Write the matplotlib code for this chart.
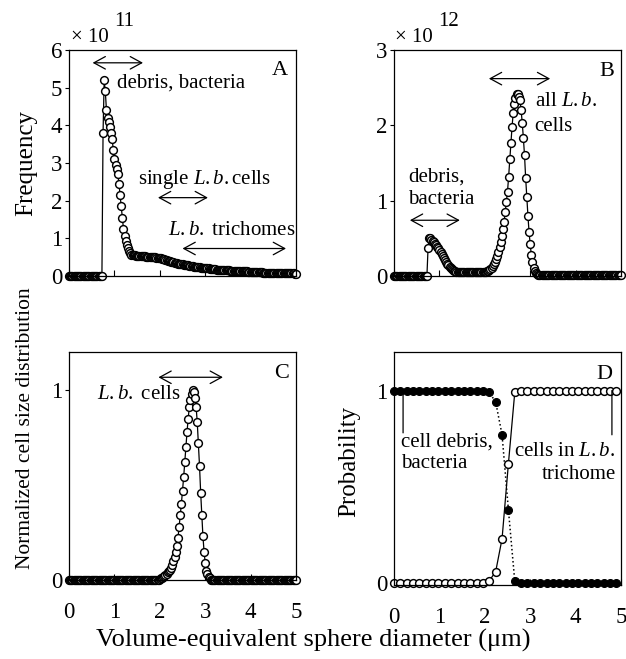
import numpy as np
import matplotlib
matplotlib.use("Agg")
import matplotlib.pyplot as plt

plt.rcParams['font.family'] = ['Liberation Serif', 'DejaVu Serif']
plt.rcParams['mathtext.fontset'] = 'custom'
plt.rcParams['mathtext.rm'] = 'Liberation Serif'
plt.rcParams['mathtext.it'] = 'Liberation Serif:italic'
plt.rcParams['mathtext.bf'] = 'Liberation Serif:bold'

# ---------------- data ----------------
# common diameter grid for panels A-C (um), step 0.025
diam_abc = np.linspace(0, 5, 201)

# Panel A: frequency (x 1e11)
freq_a = (
    [0.0] * 30
    + [3.8, 5.2, 4.9, 4.4, 4.2, 4.1, 3.95, 3.8, 3.65, 3.35,
       3.1, 2.95, 2.85, 2.7, 2.45, 2.15, 1.85, 1.55, 1.25, 1.05,
       0.92, 0.82, 0.74, 0.66, 0.60, 0.56]
    + [0.55, 0.55, 0.55, 0.54, 0.54, 0.54, 0.53, 0.53, 0.53, 0.52,
       0.52, 0.52, 0.51, 0.51, 0.51, 0.51, 0.50, 0.50, 0.50, 0.50,
       0.50, 0.49, 0.49, 0.48, 0.48, 0.47, 0.46, 0.45, 0.44, 0.43,
       0.42, 0.41, 0.40, 0.39, 0.38, 0.37, 0.36, 0.35, 0.35, 0.34,
       0.33, 0.33, 0.32, 0.31, 0.31, 0.30, 0.29, 0.29, 0.28, 0.28,
       0.27, 0.27, 0.26, 0.26, 0.25, 0.25, 0.24, 0.24, 0.23, 0.23,
       0.22, 0.22, 0.22, 0.21, 0.21, 0.20, 0.20, 0.20, 0.19, 0.19,
       0.19, 0.18, 0.18, 0.18, 0.17, 0.17, 0.17, 0.17, 0.16, 0.16,
       0.16, 0.16, 0.15, 0.15, 0.15, 0.15, 0.14, 0.14, 0.14, 0.14,
       0.14, 0.13, 0.13, 0.13, 0.13, 0.13, 0.12, 0.12, 0.12, 0.12,
       0.12, 0.12, 0.11, 0.11, 0.11, 0.11, 0.11, 0.11, 0.10, 0.10,
       0.10, 0.10, 0.10, 0.10, 0.10, 0.09, 0.09, 0.09, 0.09, 0.09,
       0.09, 0.09, 0.09, 0.08, 0.08, 0.08, 0.08, 0.08, 0.08, 0.08,
       0.08, 0.08, 0.07, 0.07, 0.07, 0.07, 0.07, 0.07, 0.07, 0.07,
       0.07, 0.07, 0.07, 0.06, 0.06]
)

# Panel B: frequency (x 1e12)
freq_b = (
    [0.0] * 30
    + [0.37, 0.51, 0.50, 0.48, 0.47, 0.45, 0.43, 0.41, 0.39, 0.37,
       0.34, 0.32, 0.29, 0.26, 0.24, 0.21, 0.19, 0.16, 0.14, 0.12,
       0.11, 0.09, 0.08, 0.07, 0.06]
    + [0.05] * 27
    + [0.06, 0.07, 0.08, 0.09, 0.11, 0.13, 0.16, 0.19, 0.23, 0.27,
       0.32, 0.38, 0.45, 0.53, 0.63, 0.72, 0.85, 0.98, 1.12, 1.32,
       1.55, 1.76, 1.98, 2.16, 2.28, 2.36, 2.41, 2.42, 2.38, 2.33,
       2.20, 2.03, 1.83, 1.60, 1.30, 1.05, 0.80, 0.58, 0.42, 0.28,
       0.18, 0.11, 0.07, 0.04, 0.02]
    + [0.01] * 74
)

# Panel C: normalized cell size distribution
norm_c = (
    [0.0] * 80
    + [0.005, 0.01, 0.01, 0.015, 0.02, 0.025, 0.03, 0.04, 0.045, 0.055,
       0.065, 0.08, 0.10, 0.12, 0.145, 0.18, 0.22, 0.28, 0.34, 0.40,
       0.47, 0.54, 0.62, 0.70, 0.78, 0.85, 0.91, 0.95, 0.98, 1.00,
       0.99, 0.96, 0.91, 0.83, 0.72, 0.60, 0.46, 0.34, 0.23, 0.15,
       0.09, 0.05, 0.03, 0.015, 0.008]
    + [0.0] * 76
)

# Panel D: probability, coarser grid (step 0.14)
diam_d = np.linspace(0, 4.9, 36)
prob_debris = ([1.0] * 15 + [0.99, 0.94, 0.77, 0.38, 0.01] + [0.0] * 16)
prob_trichome = ([0.0] * 15 + [0.012, 0.06, 0.23, 0.62, 0.99] + [1.0] * 16)

xticks = [0, 1, 2, 3, 4, 5]
yticks_a = [0, 1, 2, 3, 4, 5, 6]
yticks_b = [0, 1, 2, 3]
yticks_cd = [0, 1]

# ---------------- figure ----------------
W, H = 626, 659
fig = plt.figure(figsize=(W / 100, H / 100), dpi=100)

def axes_px(l, t, r, b):
    return fig.add_axes([l / W, 1 - b / H, (r - l) / W, (b - t) / H])

axA = axes_px(69, 50, 296, 276)
axB = axes_px(394, 50, 621, 276)
axC = axes_px(69, 352, 296, 580)
axD = axes_px(394, 352, 621, 585)

TICK_FS = 16.5
ANN_FS = 15
mk = dict(marker='o', ms=5.6, mfc='white', mec='black', mew=1.05,
          color='black', lw=0.9, clip_on=False)

for ax in (axA, axB, axC, axD):
    ax.set_xlim(0, 5)
    ax.set_xticks(xticks)
    for s in ax.spines.values():
        s.set_linewidth(0.9)
    ax.tick_params(axis='x', direction='in', length=4, width=0.8,
                   labelsize=TICK_FS, pad=16)
    ax.tick_params(axis='y', direction='out', length=3, width=0.8,
                   labelsize=TICK_FS, pad=2)

axA.plot(diam_abc, freq_a, **mk)
axB.plot(diam_abc, freq_b, **mk)
axC.plot(diam_abc, norm_c, **mk)

axD.plot(diam_d, prob_debris, marker='o', ms=5.6, mfc='black', mec='black',
         mew=0.9, color='black', lw=1.1, ls=':', clip_on=False)
axD.plot(diam_d, prob_trichome, **mk)

axA.set_ylim(0, 6); axA.set_yticks(yticks_a)
axB.set_ylim(0, 3); axB.set_yticks(yticks_b)
axC.set_ylim(0, 1.2); axC.set_yticks(yticks_cd)
axD.set_ylim(-0.01, 1.2); axD.set_yticks(yticks_cd)
axA.set_xticklabels([]); axB.set_xticklabels([])

axA.set_ylabel('Frequency', fontsize=18)
axA.yaxis.set_label_coords(-0.142, 0.5)
axC.set_ylabel('Normalized cell size distribution', fontsize=15.5)
axC.yaxis.set_label_coords(-0.15, 0.665)
axD.set_ylabel('Probability', fontsize=18)
axD.yaxis.set_label_coords(-0.148, 0.53)

fig.text(0.5, 1 - 640 / H, 'Volume-equivalent sphere diameter (\u03bcm)',
         ha='center', va='center', fontsize=19)

# exponent labels
fig.text(71 / W, 1 - 38 / H, '\u00d7 10', ha='left', va='center', fontsize=15)
fig.text(114 / W, 1 - 22 / H, '11', ha='left', va='center', fontsize=15)
fig.text(395 / W, 1 - 38 / H, '\u00d7 10', ha='left', va='center', fontsize=15)
fig.text(438 / W, 1 - 22 / H, '12', ha='left', va='center', fontsize=15)

# panel letters
for ax, lab, x, y in ((axA, 'A', 4.65, 5.45), (axB, 'B', 4.68, 2.71),
                      (axC, 'C', 4.68, 1.088), (axD, 'D', 4.63, 1.083)):
    ax.text(x, y, lab, ha='center', va='center', fontsize=16)

arr = dict(arrowstyle='<->,head_length=0.55,head_width=0.3', lw=0.9,
           color='black', mutation_scale=15, shrinkA=0, shrinkB=0)

def darrow(ax, x0, x1, y):
    ax.annotate('', xy=(x1, y), xytext=(x0, y), arrowprops=arr)

LB = r'$\mathit{L.b.}$'

# Panel A annotations
darrow(axA, 0.52, 1.63, 5.66)
axA.text(1.05, 5.12, 'debris, bacteria', ha='left', va='center', fontsize=ANN_FS)
axA.text(2.99, 2.55, 'single ' + LB + 'cells', ha='center', va='center', fontsize=ANN_FS)
darrow(axA, 1.96, 3.06, 2.08)
axA.text(3.575, 1.22, LB + ' trichomes', ha='center', va='center', fontsize=ANN_FS)
darrow(axA, 2.50, 4.78, 0.73)

# Panel B annotations
darrow(axB, 2.09, 3.44, 2.62)
axB.text(3.1, 2.31, 'all ' + LB, ha='left', va='center', fontsize=ANN_FS)
axB.text(3.1, 1.99, 'cells', ha='left', va='center', fontsize=ANN_FS)
axB.text(0.31, 1.32, 'debris,', ha='left', va='center', fontsize=ANN_FS)
axB.text(0.31, 1.02, 'bacteria', ha='left', va='center', fontsize=ANN_FS)
darrow(axB, 0.35, 1.45, 0.74)

# Panel C annotations
darrow(axC, 1.97, 3.39, 1.067)
axC.text(0.61, 0.974, LB + ' cells', ha='left', va='center', fontsize=ANN_FS)

# Panel D annotations
axD.annotate('', xy=(0.2, 1.0), xytext=(0.2, 0.78),
             arrowprops=dict(arrowstyle='-', lw=0.9, color='black', shrinkA=0, shrinkB=0))
axD.annotate('', xy=(4.8, 1.0), xytext=(4.8, 0.77),
             arrowprops=dict(arrowstyle='-', lw=0.9, color='black', shrinkA=0, shrinkB=0))
axD.text(0.15, 0.73, 'cell debris,', ha='left', va='center', fontsize=ANN_FS)
axD.text(0.15, 0.62, 'bacteria', ha='left', va='center', fontsize=ANN_FS)
axD.text(4.88, 0.685, 'cells in ' + LB, ha='right', va='center', fontsize=ANN_FS)
axD.text(4.88, 0.565, 'trichome', ha='right', va='center', fontsize=ANN_FS)

fig.savefig('out.png', dpi=100)
